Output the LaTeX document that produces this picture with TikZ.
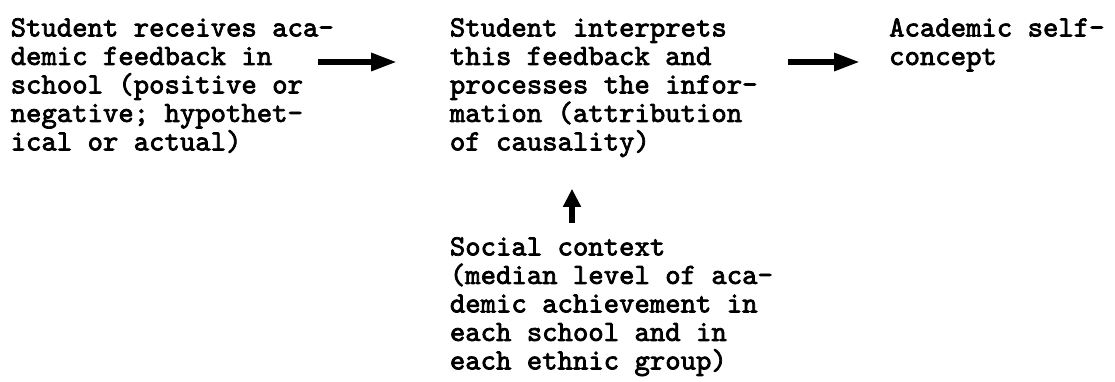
\documentclass[tikz,border=0pt]{standalone}
\usepackage{fontspec}
\usepackage{tikz}
\usetikzlibrary{arrows.meta}
\newfontfamily\typewriter{lmmono10-regular.otf}[FakeBold=2.5]

\begin{document}
\begin{tikzpicture}[x=1pt,y=1pt,
        txt/.style={anchor=north west,align=left,inner sep=0pt,
            font=\typewriter\fontsize{29.3}{28.5}\selectfont},
        flow/.style={line width=6pt,-{Triangle[length=26pt,width=17pt]}}]
        \useasboundingbox (0,0) rectangle (1115,-381);

        \node[txt] (feedback) at (10.5,-18) {Student receives aca-\\demic feedback in\\school (positive or\\negative; hypothet-\\ical or actual)};
        \node[txt] (interp) at (449.7,-18) {Student interprets\\this feedback and\\processes the infor-\\mation (attribution\\of causality)};
        \node[txt] (selfconcept) at (889,-18) {Academic self-\\concept};
        \node[txt] (social) at (449.7,-237) {Social context\\(median level of aca-\\demic achievement in\\each school and in\\each ethnic group)};

        \coordinate (fb-out) at ([xshift=-15.5pt]feedback.east |- 0,-62);
        \coordinate (in-out) at ([xshift=30.7pt]interp.east |- 0,-62);
        \coordinate (ctx-out) at ([shift={(122.3,14)}]social.north west);

        \draw[flow,shorten >=52.7pt] (fb-out) -- (fb-out -| interp.west);
        \draw[flow,shorten >=29pt] (in-out) -- (in-out -| selfconcept.west);
        \draw[flow,-{Triangle[length=18pt,width=17pt]},shorten >=31.5pt] (ctx-out) -- (ctx-out |- interp.south);
    \end{tikzpicture}
\end{document}
